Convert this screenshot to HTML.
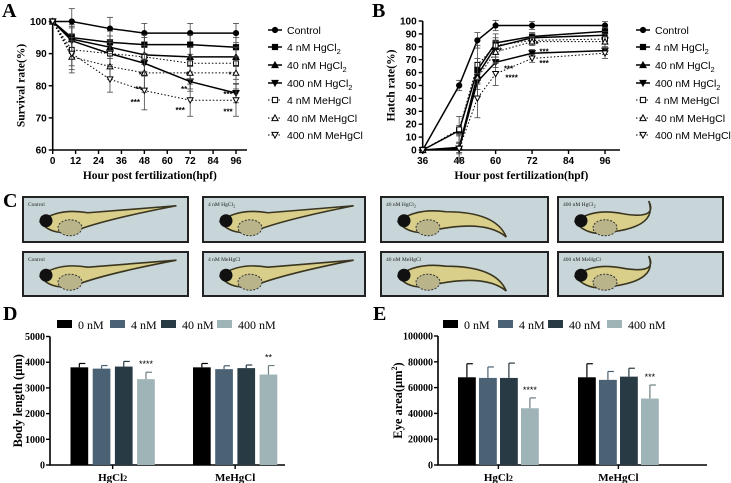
<!DOCTYPE html>
<html><head><meta charset="utf-8"><style>
html,body{margin:0;padding:0;background:#fff;}
svg{display:block;}
.t{font-family:"Liberation Serif",serif;font-weight:bold;}
.s{font-family:"Liberation Sans",sans-serif;}
</style></head><body>
<svg id="fig" width="731" height="483" viewBox="0 0 731 483" xmlns="http://www.w3.org/2000/svg">
<g id="panelA"></g>
<g id="panelB"></g>
<g id="panelC"></g>
<g id="panelD"></g>
<g id="panelE"></g>
</svg>
<script>
// ---- Panel A data ----
const aHours = [0, 10, 30, 48, 72, 96];
const aControl = [100, 100, 97.8, 96.4, 96.4, 96.4];
const aHg4 = [100, 95, 93.5, 92.8, 92.8, 92];
const aHg40 = [100, 94.5, 92, 89.6, 89, 89];
const aHg400 = [100, 94, 90, 87, 81.3, 77.7];
const aMe4 = [100, 91.2, 90, 89, 87, 87];
const aMe40 = [100, 89, 86, 84, 84, 84];
const aMe400 = [100, 90, 82, 78.5, 75.5, 75.5];
const aErr = [0, 4, 3.5, 3, 3, 3];
const aErrMe = [0, 5, 4, 6, 5, 5];
const aTicksY = [60, 70, 80, 90, 100];
const aTicksX = [0, 12, 24, 36, 48, 60, 72, 84, 96];
// ---- Panel B data ----
const bHours = [36, 48, 54, 60, 72, 96];
const bControl = [0, 50, 85, 96.5, 96.5, 96.5];
const bHg4 = [0, 15, 62, 83, 88, 92];
const bHg40 = [0, 2, 58, 80, 87, 89];
const bHg400 = [0, 1, 53, 68, 75, 77];
const bMe4 = [0, 16, 66, 81, 85, 86];
const bMe40 = [0, 2, 56, 76, 84, 84];
const bMe400 = [0, 1, 40, 59, 71, 75];
const bErr = [0, 4, 6, 4, 3, 3];
const bErrMe = [0, 10, 15, 9, 3, 4];
const bTicksY = [0, 10, 20, 30, 40, 50, 60, 70, 80, 90, 100];
const bTicksX = [36, 48, 60, 72, 84, 96];
const seriesNames = ["Control", "4 nM HgCl", "40 nM HgCl", "400 nM HgCl", "4 nM MeHgCl", "40 nM MeHgCl", "400 nM MeHgCl"];
// ---- Panel D data ----
const groups = ["HgCl2", "MeHgCl"];
const doseNames = ["0 nM", "4 nM", "40 nM", "400 nM"];
const dHg = [3800, 3750, 3830, 3340];
const dHgErr = [150, 120, 200, 270];
const dMe = [3800, 3730, 3770, 3520];
const dMeErr = [150, 130, 120, 350];
const dStars = ["", "", "", "****", "", "", "", "**"];
const dTicks = [0, 1000, 2000, 3000, 4000, 5000];
// ---- Panel E data ----
const eHg = [68000, 67500, 67500, 44000];
const eHgErr = [10500, 8500, 11500, 8000];
const eMe = [68000, 66000, 68500, 51500];
const eMeErr = [10500, 6500, 6500, 10500];
const eStars = ["", "", "", "****", "", "", "", "***"];
const eTicks = [0, 20000, 40000, 60000, 80000, 100000];

const NS = "http://www.w3.org/2000/svg";
function mk(parent, tag, attrs, text) {
  const e = document.createElementNS(NS, tag);
  for (const k in attrs) e.setAttribute(k, attrs[k]);
  if (text !== undefined) e.textContent = text;
  parent.appendChild(e);
  return e;
}
function marker(g, kind, x, y, r) {
  const filled = kind < 4;
  const st = {fill: filled ? "#000" : "#fff", stroke: "#000", "stroke-width": 1};
  let e;
  if (kind === 0) e = mk(g, "circle", Object.assign({cx: x, cy: y, r: r}, st));
  else if (kind === 1 || kind === 4) e = mk(g, "rect", Object.assign({x: x - r, y: y - r, width: 2 * r, height: 2 * r}, st));
  else if (kind === 2 || kind === 5) e = mk(g, "polygon", Object.assign({points: `${x},${y - r - 0.5} ${x - r - 0.5},${y + r} ${x + r + 0.5},${y + r}`}, st));
  else e = mk(g, "polygon", Object.assign({points: `${x},${y + r + 0.5} ${x - r - 0.5},${y - r} ${x + r + 0.5},${y - r}`}, st));
  
  
}

function linePanel(g, cfg) {
  const {xs, series, errs, ticksX, ticksY, xScale, yScale, x0, x1, y0, y1, ylabel, letter, stars, legX} = cfg;
  const t = mk(g, "text", {x: 2, y: 17, class: "t", "font-size": 20}, letter);
   
  const ax = mk(g, "path", {d: `M${x0},${y1} L${x0},${y0} L${x1},${y0}`, stroke: "#000", "stroke-width": 1.6, fill: "none"});
   
  ticksY.forEach(v => {
    const y = yScale(v);
    mk(g, "line", {x1: x0 - 4, x2: x0, y1: y, y2: y, stroke: "#000", "stroke-width": 1.4});
    const l = mk(g, "text", {x: x0 - 6, y: y + 3.5, "text-anchor": "end", class: "s", "font-size": 10, "font-weight": "bold"}, v);
     
  });
  ticksX.forEach(v => {
    const x = xScale(v);
    mk(g, "line", {x1: x, x2: x, y1: y0, y2: y0 + 4, stroke: "#000", "stroke-width": 1.4});
    const l = mk(g, "text", {x: x, y: y0 + 14, "text-anchor": "middle", class: "s", "font-size": 10, "font-weight": "bold"}, v);
     
  });
  const xl = mk(g, "text", {x: (x0 + x1) / 2, y: y0 + 29, "text-anchor": "middle", class: "t", "font-size": 11.5}, "Hour post fertilization(hpf)");
   
  const yl = mk(g, "text", {x: 0, y: 0, transform: `translate(${x0 - 28},${(y0 + y1) / 2}) rotate(-90)`, "text-anchor": "middle", class: "t", "font-size": 11.5}, ylabel);
   
  series.forEach((s, k) => {
    const sg = mk(g, "g", {});
     
    const err = k < 4 ? errs[0] : errs[1];
    s.forEach((v, i) => {
      const x = xScale(xs[i]), e = err[i];
      if (e > 0) {
        mk(sg, "line", {x1: x, x2: x, y1: yScale(v - e), y2: yScale(v + e), stroke: "#444", "stroke-width": 0.8});
        mk(sg, "line", {x1: x - 3, x2: x + 3, y1: yScale(v + e), y2: yScale(v + e), stroke: "#444", "stroke-width": 0.8});
        mk(sg, "line", {x1: x - 3, x2: x + 3, y1: yScale(v - e), y2: yScale(v - e), stroke: "#444", "stroke-width": 0.8});
      }
    });
    const pts = s.map((v, i) => `${xScale(xs[i])},${yScale(v)}`).join(" ");
    const pl = mk(sg, "polyline", {points: pts, fill: "none", stroke: "#000", "stroke-width": k < 4 ? 1.5 : 1, "stroke-dasharray": k < 4 ? "none" : "1.5,2"});
     
    s.forEach((v, i) => marker(sg, k, xScale(xs[i]), yScale(v), k < 4 ? 2.6 : 2.4));
  });
  stars.forEach(st => {
    const s = mk(g, "text", {x: xScale(st[0]) + st[2], y: yScale(st[1]), "text-anchor": "middle", class: "s", "font-size": 8, "font-weight": "bold"}, st[3]);
     
  });
  const legY = [30, 47, 65, 83, 100, 118, 135];
  seriesNames.forEach((n, k) => {
    const lg = mk(g, "g", {});
     
    const y = legY[k];
    mk(lg, "line", {x1: legX - 7, x2: legX + 7, y1: y, y2: y, stroke: "#000", "stroke-width": k < 4 ? 1.5 : 1, "stroke-dasharray": k < 4 ? "none" : "1.5,2"});
    marker(lg, k, legX, y, 2.6);
    const tx = mk(lg, "text", {x: legX + 12, y: y + 4, class: "s", "font-size": 10.5}, n);
    if (k >= 1 && k <= 3) { mk(tx, "tspan", {"font-size": 7.5, dy: 3}, "2"); }
  });
}

(function () {
  const g = document.getElementById("panelA");
  const x0 = 52.7, x1 = 247, y0 = 150, y1 = 21;
  const xScale = v => x0 + v * (236 - x0) / 96;
  const yScale = v => y0 - (v - 60) * (128.5 / 40);
  linePanel(g, {xs: aHours, series: [aControl, aHg4, aHg40, aHg400, aMe4, aMe40, aMe400], errs: [aErr, aErrMe],
    ticksX: aTicksX, ticksY: aTicksY, xScale, yScale, x0, x1, y0, y1, ylabel: "Survival rate(%)", letter: "A", legX: 275,
    stars: [[48, 82.5, -4, "*"], [48, 78, -6, "**"], [48, 74, -9, "***"], [72, 82.5, -3, "*"], [72, 78, -6, "**"], [72, 71.5, -10, "***"], [96, 82.5, -6, "*"], [96, 76.5, -8, "***"], [96, 71, -8, "***"]]});
})();
(function () {
  const g = document.getElementById("panelB");
  g.setAttribute("transform", "translate(370,0)");
  const x0 = 52.7, x1 = 250, y0 = 150, y1 = 21;
  const xScale = v => x0 + (v - 36) * (235 - x0) / 60;
  const yScale = v => y0 - v * 1.29;
  linePanel(g, {xs: bHours, series: [bControl, bHg4, bHg40, bHg400, bMe4, bMe40, bMe400], errs: [bErr, bErrMe],
    ticksX: bTicksX, ticksY: bTicksY, xScale, yScale, x0, x1, y0, y1, ylabel: "Hatch rate(%)", letter: "B", legX: 273,
    stars: [[60, 75, 5, "*"], [60, 61, 13, "***"], [60, 54, 16, "****"], [72, 80, 5, "*"], [72, 74, 12, "***"], [72, 65, 12, "***"]]});
})();

(function () {
  const g = document.getElementById("panelC");
  const L = mk(g, "text", {x: 3, y: 207, class: "t", "font-size": 20}, "C");
   
  const boxesX = [[23, 188], [203, 365], [381, 548], [558, 723]];
  const rows = [[197, 242], [252, 296]];
  const labels = [["Control", "4 nM HgCl", "40 nM HgCl", "400 nM HgCl"], ["Control", "4 nM MeHgCl", "40 nM MeHgCl", "400 nM MeHgCl"]];
  rows.forEach((r, ri) => boxesX.forEach((b, bi) => {
    const fg = mk(g, "g", {});
     
    const w = b[1] - b[0], h = r[1] - r[0];
    mk(fg, "rect", {x: b[0], y: r[0], width: w, height: h, fill: "#c8d6d9", stroke: "#222", "stroke-width": 2});
    const cx = b[0] + 25, cy = r[0] + h * 0.55;
    let d;
    if (bi < 2) {
      d = `M${cx - 8},${cy} Q${cx + 10},${cy - 14} ${cx + 40},${cy - 9} L${b[0] + w * 0.93},${cy - 16} Q${cx + 60},${cy - 3} ${cx + 30},${cy + 8} Q${cx + 5},${cy + 16} ${cx - 8},${cy} Z`;
    } else if (bi === 2) {
      d = `M${cx - 8},${cy} Q${cx + 10},${cy - 14} ${cx + 40},${cy - 10} Q${cx + 90},${cy - 10} ${b[0] + w * 0.75},${r[0] + h - 5} Q${cx + 80},${cy - 2} ${cx + 30},${cy + 8} Q${cx + 5},${cy + 16} ${cx - 8},${cy} Z`;
    } else {
      d = `M${cx - 8},${cy} Q${cx + 10},${cy - 14} ${cx + 40},${cy - 8} Q${cx + 75},${cy - 2} ${b[0] + w * 0.55},${r[0] + 4} Q${cx + 75},${cy + 4} ${cx + 30},${cy + 10} Q${cx + 5},${cy + 16} ${cx - 8},${cy} Z`;
    }
    mk(fg, "path", {d: d, fill: "#d9cf8a", stroke: "#3a3520", "stroke-width": 1.6});
    mk(fg, "ellipse", {cx: cx + 22, cy: cy + 6, rx: 12, ry: 8, fill: "#b9b48a", stroke: "#333", "stroke-width": 1, "stroke-dasharray": "2,1.5"});
    mk(fg, "circle", {cx: cx - 2, cy: cy - 1, r: 6.5, fill: "#111"});
    const t = mk(fg, "text", {x: b[0] + 5, y: r[0] + 9, "font-family": "Liberation Serif, serif", "font-size": 5.5, fill: "#222"}, labels[ri][bi]);
    if (ri === 0 && bi > 0) mk(t, "tspan", {"font-size": 4, dy: 1.5}, "2");
  }));
})();

function barPanel(g, cfg) {
  const {vals, errs, stars, ticks, x0, x1, y0, y1, ymax, groupStart, barW, gap, groupGap, ylabel, letter, legendX, ySup, tickSize} = cfg;
  const colors = ["#000000", "#4b6275", "#283a44", "#9fb4b6"];
  const yScale = v => y0 - v / ymax * (y0 - y1);
  const L = mk(g, "text", {x: 3, y: 320, class: "t", "font-size": 20}, letter);
   
  doseNames.forEach((n, i) => {
    const lg = mk(g, "g", {});
     
    mk(lg, "rect", {x: legendX[i], y: 320, width: 15, height: 8, fill: colors[i]});
    mk(lg, "text", {x: legendX[i] + 21, y: 329, "font-family": "Liberation Serif, serif", "font-size": 12}, n);
  });
  const ax = mk(g, "path", {d: `M${x0},${y1} L${x0},${y0} L${x1},${y0}`, stroke: "#000", "stroke-width": 1.6, fill: "none"});
   
  ticks.forEach(v => {
    const y = yScale(v);
    mk(g, "line", {x1: x0 - 4, x2: x0, y1: y, y2: y, stroke: "#000", "stroke-width": 1.4});
    const l = mk(g, "text", {x: x0 - 5, y: y + 3.5, "text-anchor": "end", class: "t", "font-size": tickSize}, v);
     
  });
  const yl = mk(g, "text", {x: 0, y: 0, transform: `translate(${cfg.ylabX},${(y0 + y1) / 2}) rotate(-90)`, "text-anchor": "middle", class: "t", "font-size": 12.5}, ylabel);
  if (ySup) { mk(yl, "tspan", {"font-size": 8, dy: -5}, "2"); mk(yl, "tspan", {dy: 5}, ")"); }
   
  groups.forEach((gn, gi) => {
    const gx = groupStart + gi * groupGap;
    for (let i = 0; i < 4; i++) {
      const idx = gi * 4 + i;
      const v = vals[idx], e = errs[idx];
      const x = gx + i * (barW + gap);
      const r = mk(g, "rect", {x: x, y: yScale(v), width: barW, height: y0 - yScale(v), fill: colors[i]});
      
      
      const cx = x + barW / 2;
      const ec = colors[i] === "#9fb4b6" ? "#6c7f82" : colors[i];
      mk(g, "line", {x1: cx, x2: cx, y1: yScale(v), y2: yScale(v + e), stroke: ec, "stroke-width": 1.2});
      mk(g, "line", {x1: cx, x2: cx + 6, y1: yScale(v + e), y2: yScale(v + e), stroke: ec, "stroke-width": 1.2});
      if (stars[idx]) {
        const s = mk(g, "text", {x: cx, y: yScale(v + e) - 5, "text-anchor": "middle", class: "s", "font-size": 9}, stars[idx]);
         
      }
    }
    const cx = gx + 2 * (barW + gap) - gap / 2;
    mk(g, "line", {x1: cx, x2: cx, y1: y0, y2: y0 + 4, stroke: "#000", "stroke-width": 1.4});
    const lab = mk(g, "text", {x: cx, y: y0 + 16, "text-anchor": "middle", class: "t", "font-size": 11}, gn === "HgCl2" ? "HgCl" : gn);
    if (gn === "HgCl2") mk(lab, "tspan", {"font-size": 8, dy: 0}, "2");
     
  });
}
barPanel(document.getElementById("panelD"), {vals: dHg.concat(dMe), errs: dHgErr.concat(dMeErr), stars: dStars, ticks: dTicks,
  x0: 50, x1: 285, y0: 465, y1: 336.5, ymax: 5000, groupStart: 70.5, barW: 17.7, gap: 4.5, groupGap: 122.5,
  ylabel: "Body length (μm)", letter: "D", legendX: [57, 110, 161, 217], ylabX: 22, tickSize: 10});
barPanel(document.getElementById("panelE"), {vals: eHg.concat(eMe), errs: eHgErr.concat(eMeErr), stars: eStars, ticks: eTicks,
  x0: 438, x1: 707, y0: 465, y1: 336, ymax: 100000, groupStart: 458, barW: 17.8, gap: 3.2, groupGap: 120,
  ylabel: "Eye area(μm", ySup: true, letter: "E", legendX: [443, 498, 548, 607], ylabX: 402, tickSize: 10});
document.querySelector("#panelE text").setAttribute("x", 373);
</script>
</body></html>
